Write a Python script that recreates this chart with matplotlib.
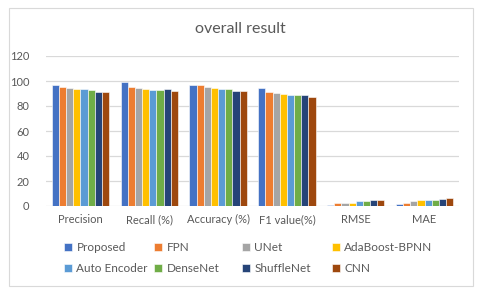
import matplotlib
matplotlib.use("Agg")
import matplotlib.pyplot as plt
import numpy as np
from matplotlib.patches import Rectangle

categories = ["Precision", "Recall (%)", "Accuracy (%)", "F1 value(%)", "RMSE", "MAE"]
series_names = ["Proposed", "FPN", "UNet", "AdaBoost-BPNN", "Auto Encoder", "DenseNet", "ShuffleNet", "CNN"]
proposed = [97.0, 99.0, 97.1, 94.5, 1.1, 1.3]
fpn = [95.3, 95.5, 96.9, 91.3, 2.1, 2.6]
unet = [94.7, 94.2, 95.0, 90.7, 2.4, 3.7]
adaboost = [93.9, 93.4, 94.2, 89.4, 2.6, 4.5]
autoenc = [93.4, 93.1, 93.9, 89.1, 3.7, 4.8]
densenet = [92.6, 92.8, 93.4, 88.6, 4.0, 5.0]
shufflenet = [91.3, 93.4, 92.0, 88.5, 5.0, 5.3]
cnn = [91.0, 92.0, 92.0, 87.2, 4.8, 6.1]
all_series = [proposed, fpn, unet, adaboost, autoenc, densenet, shufflenet, cnn]
colors = ["#4472C4", "#ED7D31", "#A5A5A5", "#FFC000", "#5B9BD5", "#70AD47", "#264478", "#9E480E"]
yticks = [0, 20, 40, 60, 80, 100, 120]

plt.rcParams['font.family'] = ['Lato', 'DejaVu Sans']
txt = "#595959"

fig = plt.figure(figsize=(4.8, 2.95), dpi=100)
fig.patches.append(Rectangle((9/480, 1-286/295), 464/480, 278/295, transform=fig.transFigure,
                             fill=False, edgecolor="#D9D9D9", linewidth=0.8))
ax = fig.add_axes([46/480, 1-206/295, 413/480, 150/295])

x = np.arange(len(categories))
bw = 0.104
handles = []
for i, (vals, c, name) in enumerate(zip(all_series, colors, series_names)):
    h = ax.bar(x + (i - 3.5) * bw, vals, width=bw, color=c, edgecolor="white", linewidth=0.4,
               label=name, zorder=3)
    handles.append(h)

ax.set_xlim(-0.5, len(categories) - 0.5)
ax.set_ylim(0, 120)
ax.set_yticks(yticks)
ax.set_yticklabels([str(t) for t in yticks])
ax.set_xticks(x)
ax.set_xticklabels(categories)
ax.tick_params(axis='both', length=0, colors=txt, labelsize=8)
ax.tick_params(axis='y', pad=12)
ax.tick_params(axis='x', pad=6)
for s in ax.spines.values():
    s.set_visible(False)
ax.grid(axis='y', color="#D9D9D9", linewidth=0.9, zorder=0)
ax.set_axisbelow(True)

fig.text(0.5, 1-29/295, "overall result", ha='center', va='center', fontsize=11.5, color=txt)

col_x = [64, 154, 242, 332]
for c in range(4):
    idx = [c, c + 4]
    fig.legend([handles[k] for k in idx], [series_names[k] for k in idx],
               loc='center left', bbox_to_anchor=(col_x[c]/480, 1-258/295), frameon=False,
               fontsize=8.5, handlelength=0.7, handleheight=0.7, handletextpad=0.35,
               labelcolor=txt, labelspacing=0.85, borderpad=0, borderaxespad=0)

fig.savefig("out.png", dpi=100)
